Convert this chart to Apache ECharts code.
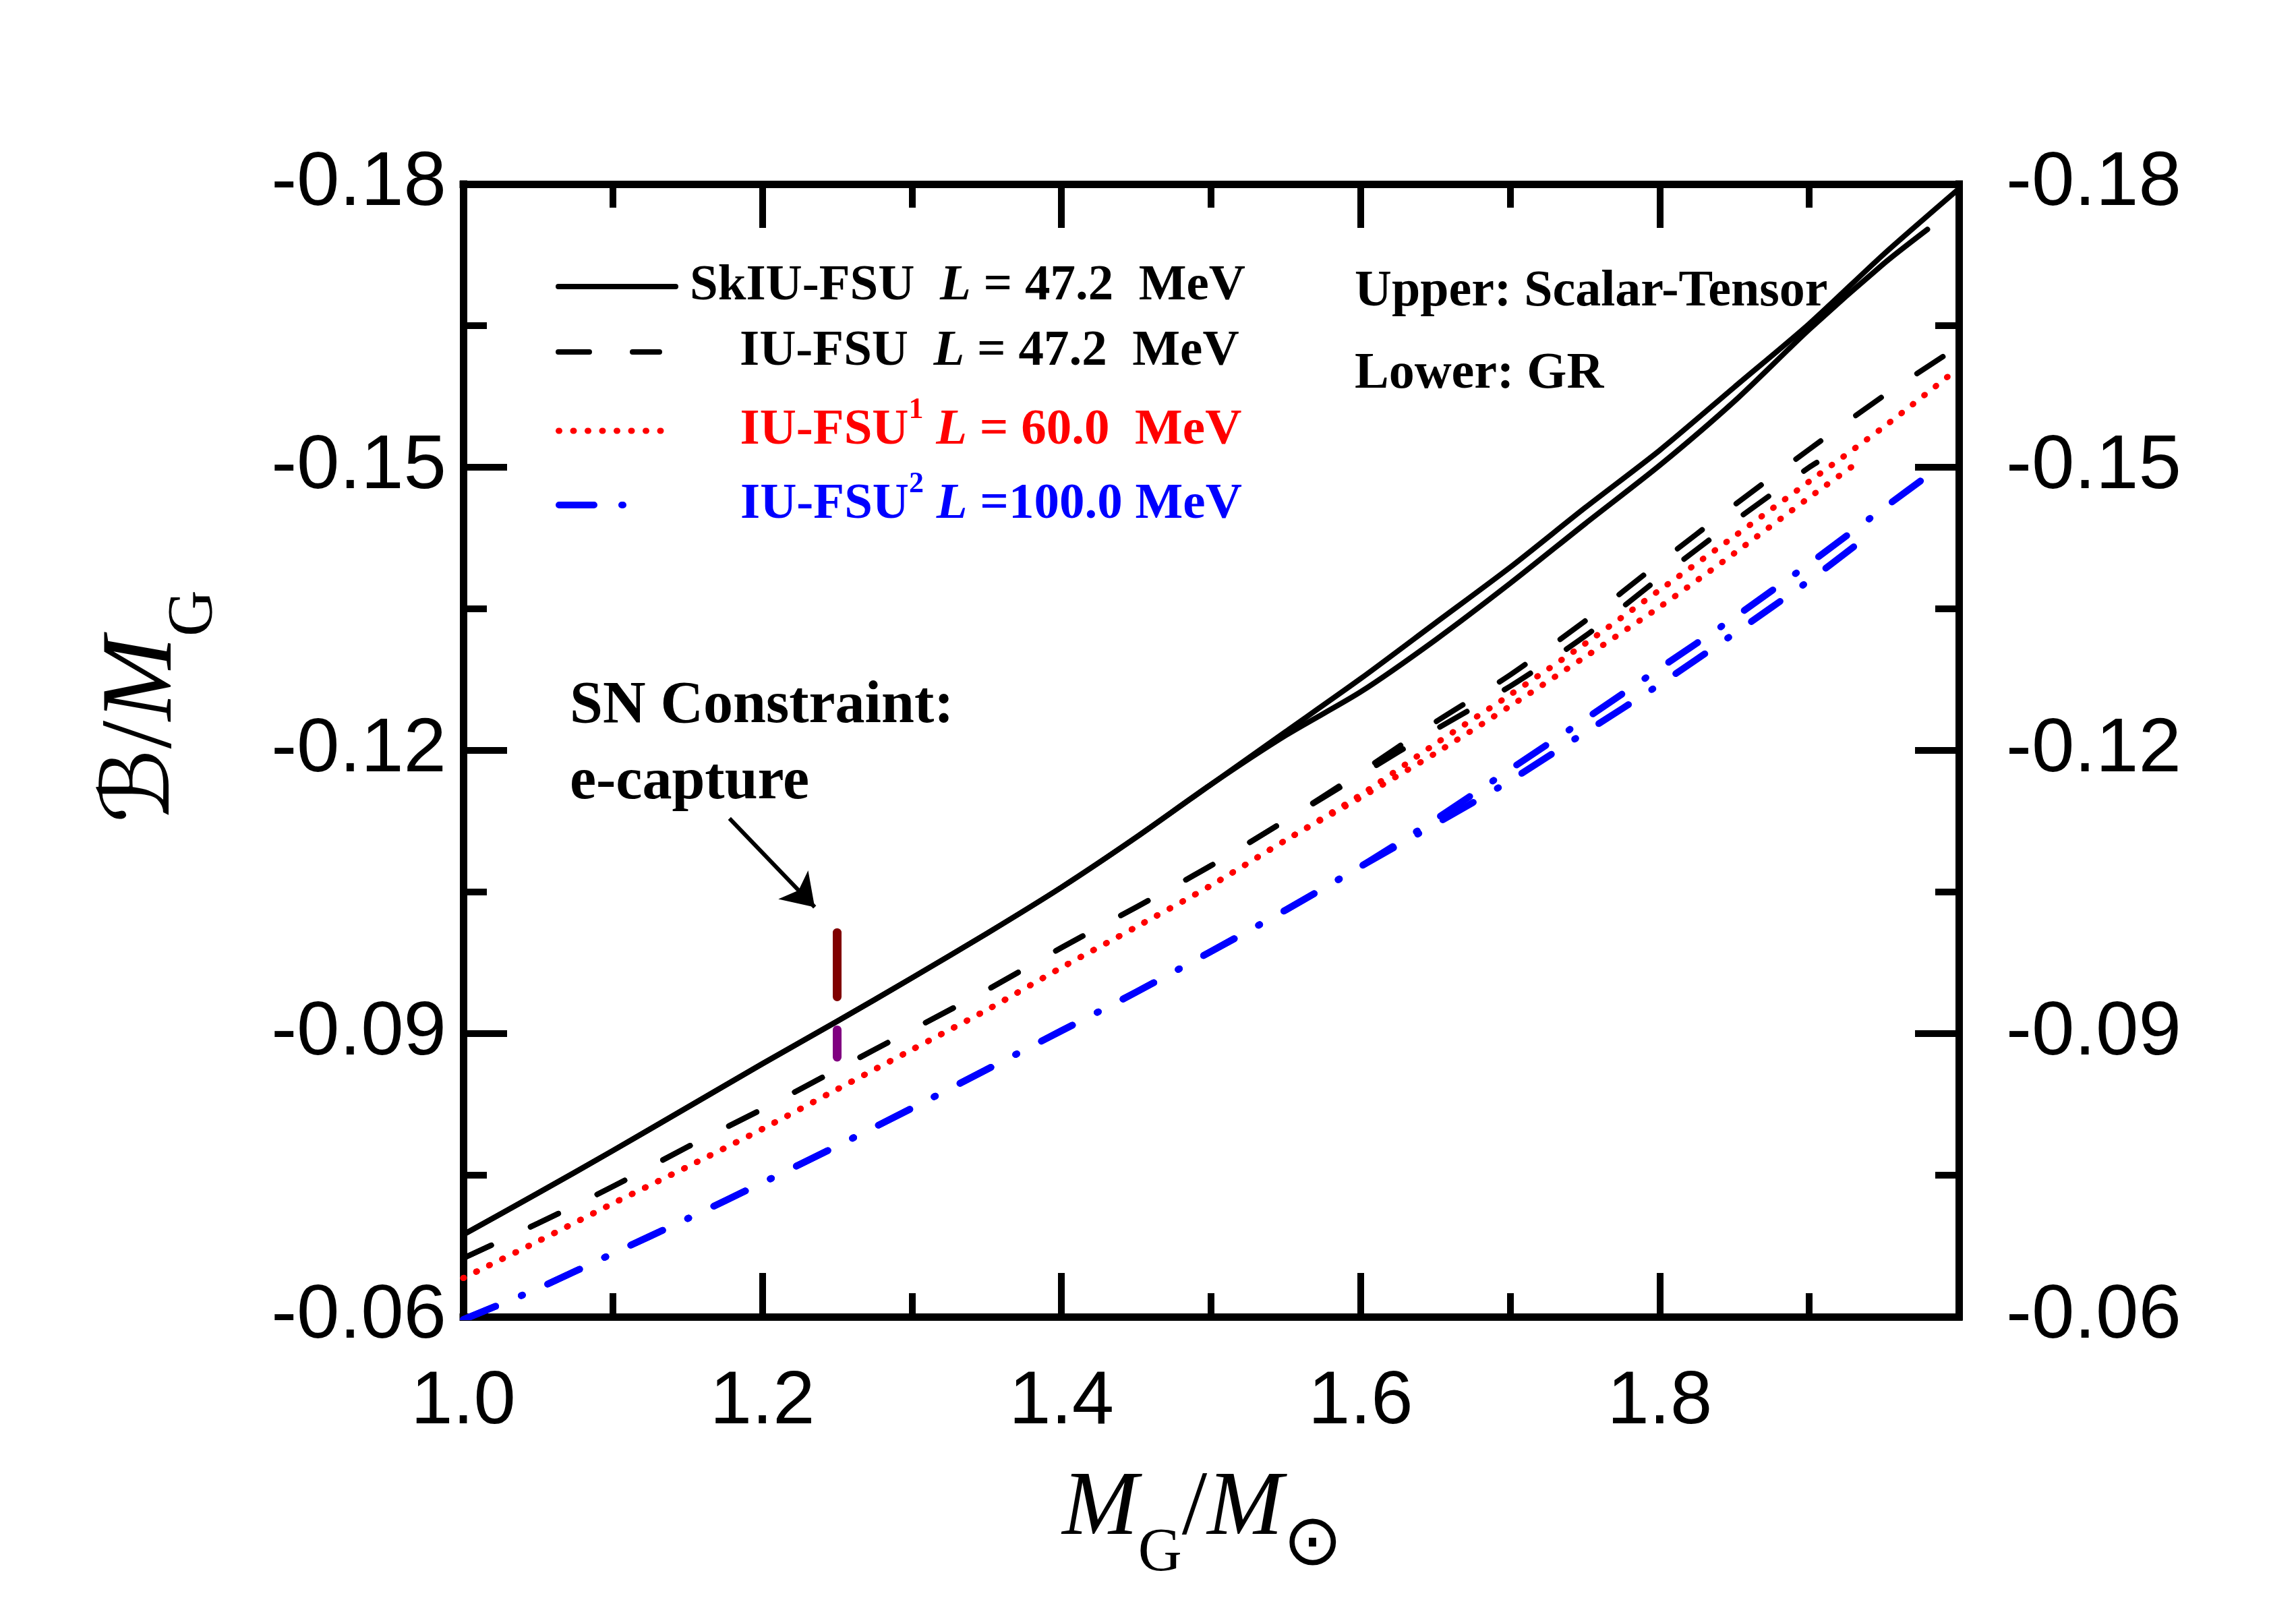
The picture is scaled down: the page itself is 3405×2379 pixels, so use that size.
<!DOCTYPE html>
<html><head><meta charset="utf-8">
<script src="https://cdn.jsdelivr.net/npm/echarts@6/dist/echarts.min.js"></script>
<style>html,body{margin:0;padding:0;background:#fff}#c{width:3405px;height:2379px}</style>
</head><body><div id="c"></div>
<script>
// ---------------- data ----------------
const massGrid = [1.00,1.05,1.10,1.15,1.20,1.25,1.30,1.35,1.40,1.45,1.50,1.55,1.60,1.65,1.70,1.75,1.80,1.85,1.90,1.95];

// SkIU-FSU  L = 47.2 MeV (solid)
const massSkST = massGrid.concat([2.00]);
const bSkST = [-0.0687,-0.0731,-0.0776,-0.0822,-0.0868,-0.0913,-0.0959,-0.1006,-0.1055,-0.1108,-0.1164,-0.1220,-0.1276,-0.1335,-0.1394,-0.1457,-0.1518,-0.1585,-0.1652,-0.1726,-0.1795];
const massSkGR = massGrid.concat([1.979]);
const bSkGR = [-0.0687,-0.0731,-0.0776,-0.0822,-0.0868,-0.0913,-0.0959,-0.1006,-0.1055,-0.1108,-0.1164,-0.1216,-0.1262,-0.1317,-0.1377,-0.1440,-0.1502,-0.1570,-0.1646,-0.1716,-0.1752];

// IU-FSU  L = 47.2 MeV (dashed)
const massIuST = massGrid.concat([1.995]);
const bIuST = [-0.0662,-0.0699,-0.0738,-0.0780,-0.0820,-0.0862,-0.0904,-0.0946,-0.0991,-0.1034,-0.1078,-0.1126,-0.1177,-0.1230,-0.1280,-0.1337,-0.1399,-0.1460,-0.1519,-0.1576,-0.1623];
const massIuGR = [1.00,1.05,1.10,1.15,1.20,1.25,1.30,1.35,1.40,1.45,1.50,1.55,1.60,1.65,1.70,1.75,1.80,1.85,1.90,1.905];
const bIuGR = [-0.0662,-0.0699,-0.0738,-0.0780,-0.0820,-0.0862,-0.0904,-0.0946,-0.0991,-0.1034,-0.1078,-0.1126,-0.1174,-0.1222,-0.1268,-0.1321,-0.1383,-0.1443,-0.1500,-0.1505];

// IU-FSU^1  L = 60.0 MeV (dotted, red)
const massIu1ST = massGrid.concat([1.995]);
const bIu1ST = [-0.0641,-0.0680,-0.0720,-0.0759,-0.0799,-0.0841,-0.0883,-0.0925,-0.0970,-0.1013,-0.1057,-0.1105,-0.1153,-0.1207,-0.1259,-0.1313,-0.1370,-0.1427,-0.1485,-0.1543,-0.1599];
const massIu1GR = [1.00,1.05,1.10,1.15,1.20,1.25,1.30,1.35,1.40,1.45,1.50,1.55,1.60,1.65,1.70,1.75,1.80,1.85,1.90,1.935];
const bIu1GR = [-0.0641,-0.0680,-0.0720,-0.0759,-0.0799,-0.0841,-0.0883,-0.0925,-0.0970,-0.1013,-0.1057,-0.1105,-0.1150,-0.1197,-0.1247,-0.1299,-0.1352,-0.1409,-0.1468,-0.1508];

// IU-FSU^2  L = 100.0 MeV (dash-dot, blue)
const massIu2ST = massGrid.concat([1.986]);
const bIu2ST = [-0.0597,-0.0630,-0.0667,-0.0704,-0.0742,-0.0781,-0.0821,-0.0862,-0.0903,-0.0944,-0.0987,-0.1031,-0.1077,-0.1127,-0.1180,-0.1233,-0.1287,-0.1341,-0.1398,-0.1457,-0.1499];
const massIu2GR = [1.00,1.05,1.10,1.15,1.20,1.25,1.30,1.35,1.40,1.45,1.50,1.55,1.60,1.65,1.70,1.75,1.80,1.85,1.90,1.93];
const bIu2GR = [-0.0597,-0.0630,-0.0667,-0.0704,-0.0742,-0.0781,-0.0821,-0.0862,-0.0903,-0.0944,-0.0987,-0.1031,-0.1077,-0.1122,-0.1168,-0.1219,-0.1270,-0.1324,-0.1380,-0.1416];

// SN constraint (e-capture) bars at M = 1.25
const snMass = 1.25;
const snUpper = [-0.1007, -0.0939];
const snLower = [-0.0904, -0.0875];
const arrowFrom = [1.178, -0.1128];
const arrowTo = [1.235, -0.1034];

// axis ticks
const xMin = 1.0, xMax = 2.0, xStep = 0.2;
const yMin = -0.18, yMax = -0.06, yStep = 0.03;

// legend labels
const legendNames = ['SkIU-FSU', 'IU-FSU', 'IU-FSU1', 'IU-FSU2'];
const legendTexts = [
  'SkIU-FSU  {i|L} = 47.2  MeV',
  'IU-FSU  {i|L} = 47.2  MeV',
  'IU-FSU{sup|1} {i|L} = 60.0  MeV',
  'IU-FSU{sup|2} {i|L} =100.0 MeV'
];

// ---------------- chart ----------------
const pairs = (xs, ys) => xs.map((x, i) => [x, ys[i]]);
const BLACK = '#000000', RED = '#FF0000', BLUE = '#0000FF';
const DASH = [46, 64], DOT = [1, 20.5], DASHDOT = [52, 41, 2, 41];

function curve(name, xs, ys, color, width, dash, z) {
  return {
    type: 'line', name: name, data: pairs(xs, ys), symbol: 'none',
    smooth: 0.25, silent: true, z: z,
    lineStyle: { color: color, width: width, type: dash, cap: 'round', join: 'round' },
    itemStyle: { color: color },
    emphasis: { disabled: true }
  };
}

const SERIF = '"Liberation Serif", "Times New Roman", serif';
const SANS = '"Liberation Sans", Arial, sans-serif';

function legend(idx, centerY, itemWidth, pad, color, lw) {
  const rich = {
    i: { fontFamily: SERIF, fontSize: 75, fontWeight: 'bold', fontStyle: 'italic', color: color },
    sup: { fontFamily: SERIF, fontSize: 44, fontWeight: 'bold', color: color, padding: [0, 0, 60, 0] }
  };
  return {
    show: true, orient: 'vertical', left: 824, top: centerY - 55, padding: 0,
    itemWidth: itemWidth, itemHeight: 110, selectedMode: false,
    data: [legendNames[idx]],
    lineStyle: { width: lw },
    itemStyle: { color: 'rgba(0,0,0,0)', borderWidth: 0, opacity: 0 },
    formatter: () => legendTexts[idx],
    textStyle: { fontFamily: SERIF, fontSize: 75, fontWeight: 'bold', color: color, padding: [0, 0, 0, pad], rich: rich }
  };
}

const axisLineStyle = { color: '#000', width: 11, cap: 'square' };
function xAxis(pos, showLabel) {
  return {
    type: 'value', position: pos, min: xMin, max: xMax, interval: xStep,
    axisLine: { show: true, onZero: false, lineStyle: axisLineStyle },
    axisTick: { show: true, inside: true, length: 65, lineStyle: { color: '#000', width: 10 } },
    minorTick: { show: true, splitNumber: 2, length: 35, lineStyle: { color: '#000', width: 10 } },
    splitLine: { show: false }, minorSplitLine: { show: false },
    axisLabel: { show: showLabel, margin: 71, fontSize: 112, fontFamily: SANS, color: '#000',
      formatter: v => (v > xMax - 0.01 ? '' : v.toFixed(1)) }
  };
}
function yAxis(pos, margin) {
  return {
    type: 'value', position: pos, min: yMin, max: yMax, interval: yStep, inverse: true,
    axisLine: { show: true, onZero: false, lineStyle: axisLineStyle },
    axisTick: { show: true, inside: true, length: 65, lineStyle: { color: '#000', width: 10 } },
    minorTick: { show: true, splitNumber: 2, length: 35, lineStyle: { color: '#000', width: 10 } },
    splitLine: { show: false }, minorSplitLine: { show: false },
    axisLabel: { show: true, margin: margin, fontSize: 114, fontFamily: SANS, color: '#000',
      formatter: v => v.toFixed(2) }
  };
}

const chart = echarts.init(document.getElementById('c'), null, { renderer: 'canvas' });
chart.setOption({
  animation: false,
  backgroundColor: '#ffffff',
  grid: { left: 687, right: 500, top: 273, bottom: 426, containLabel: false, outerBoundsMode: 'none' },
  xAxis: [xAxis('bottom', true), xAxis('top', false)],
  yAxis: [yAxis('left', 25), yAxis('right', 70)],
  legend: [
    legend(0, 436, 174, 16, BLACK, 8),
    legend(1, 533, 150, 114, BLACK, 8),
    legend(2, 642, 162, 102, RED, 9),
    legend(3, 752, 100, 164, BLUE, 10)
  ],
  series: [
    curve(legendNames[0], massSkST, bSkST, BLACK, 8, 'solid', 5),
    curve(legendNames[0], massSkGR, bSkGR, BLACK, 8, 'solid', 5),
    curve(legendNames[1], massIuST, bIuST, BLACK, 8, DASH, 4),
    curve(legendNames[1], massIuGR, bIuGR, BLACK, 8, DASH, 4),
    curve(legendNames[2], massIu1ST, bIu1ST, RED, 9, DOT, 3),
    curve(legendNames[2], massIu1GR, bIu1GR, RED, 9, DOT, 3),
    curve(legendNames[3], massIu2ST, bIu2ST, BLUE, 10, DASHDOT, 2),
    curve(legendNames[3], massIu2GR, bIu2GR, BLUE, 10, DASHDOT, 2),
    {
      type: 'line', name: 'SN-ST', data: [[snMass, snUpper[0]], [snMass, snUpper[1]]],
      symbol: 'none', silent: true, z: 6,
      lineStyle: { color: '#800000', width: 13, cap: 'round' }, emphasis: { disabled: true },
      markLine: {
        silent: true, animation: false, symbol: ['none', 'arrow'], symbolSize: 46,
        label: { show: false }, emphasis: { disabled: true },
        itemStyle: { color: '#000' },
        lineStyle: { color: '#000', width: 6, type: 'solid' },
        data: [[{ coord: arrowFrom }, { coord: arrowTo }]]
      }
    },
    {
      type: 'line', name: 'SN-GR', data: [[snMass, snLower[0]], [snMass, snLower[1]]],
      symbol: 'none', silent: true, z: 6,
      lineStyle: { color: '#800080', width: 13, cap: 'round' }, emphasis: { disabled: true }
    }
  ],
  graphic: [
    { type: 'text', x: 2009, y: 433, silent: true,
      style: { text: 'Upper: Scalar-Tensor', fontFamily: SERIF, fontWeight: 'bold', fontSize: 76, fill: '#000', align: 'left', verticalAlign: 'middle' } },
    { type: 'text', x: 2009, y: 555, silent: true,
      style: { text: 'Lower: GR', fontFamily: SERIF, fontWeight: 'bold', fontSize: 76, fill: '#000', align: 'left', verticalAlign: 'middle' } },
    { type: 'text', x: 845, y: 1048, silent: true,
      style: { text: 'SN Constraint:', fontFamily: SERIF, fontWeight: 'bold', fontSize: 88, fill: '#000', align: 'left', verticalAlign: 'middle' } },
    { type: 'text', x: 845, y: 1161, silent: true,
      style: { text: 'e-capture', fontFamily: SERIF, fontWeight: 'bold', fontSize: 88, fill: '#000', align: 'left', verticalAlign: 'middle' } },
    // x-axis title
    { type: 'text', x: 1783, y: 2240, silent: true,
      style: {
        text: '{m|M}{g|G}{sl|/}{m|M}{sun|⊙}', align: 'center', verticalAlign: 'middle', fill: '#000',
        rich: {
          m: { fontFamily: SERIF, fontStyle: 'italic', fontSize: 135, fill: '#000' },
          sl: { fontFamily: SERIF, fontSize: 135, fill: '#000' },
          g: { fontFamily: SERIF, fontSize: 90, fill: '#000', padding: [130, 0, 0, 0] },
          sun: { fontFamily: '"DejaVu Sans"', fontSize: 105, fill: '#000', padding: [106, 0, 0, 0] }
        }
      } },
    // y-axis title
    { type: 'text', x: 214, y: 1048, rotation: Math.PI / 2, silent: true,
      style: {
        text: '{b|ℬ}{sl|/}{m|M}{g|G}', align: 'center', verticalAlign: 'middle', fill: '#000',
        rich: {
          b: { fontFamily: '"DejaVu Serif", "DejaVu Sans"', fontStyle: 'italic', fontSize: 140, fill: '#000' },
          sl: { fontFamily: SERIF, fontSize: 150, fill: '#000' },
          m: { fontFamily: SERIF, fontStyle: 'italic', fontSize: 150, fill: '#000' },
          g: { fontFamily: SERIF, fontSize: 95, fill: '#000', padding: [150, 0, 0, 0] }
        }
      } }
  ]
});
</script>
</body></html>
